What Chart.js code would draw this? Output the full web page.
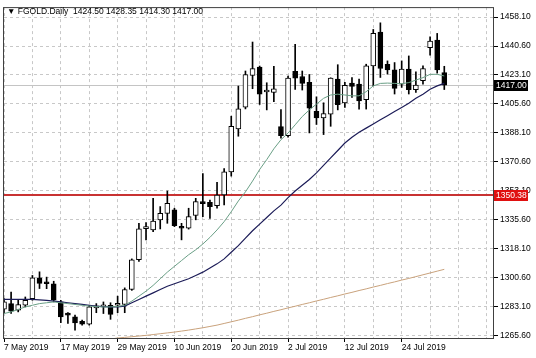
<!DOCTYPE html>
<html>
<head>
<meta charset="utf-8">
<script src="https://cdn.jsdelivr.net/npm/chart.js@4.4.0/dist/chart.umd.min.js"></script>
<style>
  html, body { margin: 0; background: #fff; }
  #wrap { width: 536px; height: 358px; }
</style>
</head>
<body>
<div id="wrap"><canvas id="chart"></canvas></div>
<script>
const symbol = "FGOLD.Daily";

const dates = [
  "7 May 2019","8 May 2019","9 May 2019","10 May 2019","13 May 2019","14 May 2019","15 May 2019","16 May 2019",
  "17 May 2019","20 May 2019","21 May 2019","22 May 2019","23 May 2019","24 May 2019","27 May 2019","28 May 2019",
  "29 May 2019","30 May 2019","31 May 2019","3 Jun 2019","4 Jun 2019","5 Jun 2019","6 Jun 2019","7 Jun 2019",
  "10 Jun 2019","11 Jun 2019","12 Jun 2019","13 Jun 2019","14 Jun 2019","17 Jun 2019","18 Jun 2019","19 Jun 2019",
  "20 Jun 2019","21 Jun 2019","24 Jun 2019","25 Jun 2019","26 Jun 2019","27 Jun 2019","28 Jun 2019","1 Jul 2019",
  "2 Jul 2019","3 Jul 2019","4 Jul 2019","5 Jul 2019","8 Jul 2019","9 Jul 2019","10 Jul 2019","11 Jul 2019",
  "12 Jul 2019","15 Jul 2019","16 Jul 2019","17 Jul 2019","18 Jul 2019","19 Jul 2019","22 Jul 2019","23 Jul 2019",
  "24 Jul 2019","25 Jul 2019","26 Jul 2019","29 Jul 2019","30 Jul 2019","31 Jul 2019","1 Aug 2019"
];

const open = [
  1281.6,1285,1281,1284,1288,1300.6,1297.4,1297,1286,1278.5,
  1277,1274.3,1272.5,1282.4,1283,1284,1284,1284.5,1293.5,1311.5,
  1330.3,1329.5,1335.5,1339.5,1341.6,1331.5,1330.5,1338.2,1346.6,1346.2,
  1344.2,1350.6,1364.6,1390.5,1403.6,1422.8,1427.9,1412.8,1412.5,1392,
  1386.4,1425.3,1422.2,1418.7,1401.1,1397.1,1399.4,1420.6,1406.2,1418.2,
  1417.6,1408.2,1428.6,1449,1429.6,1426.2,1417.6,1426.6,1414.2,1419.6,
  1439.6,1444.2,1424.5
];
const high = [
  1288,1292,1287.5,1289,1302,1304.2,1301,1298.5,1287,1279.5,
  1278,1275,1284,1285,1286,1285.5,1289.5,1294.5,1312,1333.5,
  1334,1348.6,1343.6,1353,1342.6,1333.5,1342.6,1348.6,1363.6,1347.6,
  1358.2,1366.6,1398.2,1416.4,1425.5,1443,1428.5,1418.4,1428.3,1402.2,
  1422.5,1441.6,1425.5,1423.4,1409.9,1406.3,1421.4,1429.3,1418.6,1421.6,
  1420.6,1429.6,1450.6,1454.6,1431.6,1430.6,1431.6,1434.6,1425,1428.6,
  1446.2,1448.2,1428.35
];
const low = [
  1279.5,1279,1280,1283,1287,1294.1,1294,1286,1273.5,1273,
  1269,1272,1272,1279.5,1279,1275.5,1279.5,1279.5,1293,1310.5,
  1323.5,1328.5,1330.1,1333.5,1331.5,1323.5,1330,1335.6,1337.5,1336.5,
  1342.6,1344.6,1362,1386.1,1402.6,1414.8,1405.3,1402,1407,1385,
  1385.5,1414.4,1414,1388.1,1393.2,1387.1,1392.1,1402,1403.5,1409.6,
  1402.5,1402.5,1416.6,1421.6,1423.6,1411.6,1415.6,1411.6,1412.6,1417.6,
  1435,1424.2,1414.3
];
const close = [
  1286,1280.5,1284.4,1287,1300.6,1297.2,1297,1287,1277,1278,
  1273.3,1272.5,1283,1283.6,1283.2,1278.5,1284.2,1293.5,1311.5,1330.1,
  1331,1334.9,1339.5,1345.6,1332.1,1330.5,1337.5,1346.6,1345.4,1343.6,
  1350.6,1364.6,1392.1,1402.6,1423.4,1426.9,1411.5,1413,1414.8,1386.4,
  1421.2,1421.2,1418,1403.1,1397.1,1399.8,1421.2,1405.2,1416.9,1416.2,
  1407.5,1428.6,1448.2,1427,1426.2,1415,1426.6,1414.2,1417,1427,
  1443.6,1426.2,1417
];

// moving averages
const maFast = [
  1279,1280,1281.5,1283,1284,1285,1285.5,1286,1285.5,1285,
  1284.5,1284,1283.5,1283.2,1283,1283,1283.3,1284,1286.5,1289.5,
  1292.5,1296,1300,1304,1307.5,1311,1314.5,1317.5,1321,1325,
  1329.5,1334.5,1340.5,1347,1352.5,1359,1366,1372,1378.5,1384,
  1388,1393,1398,1402,1405.5,1409,1411,1411.5,1411,1410.5,
  1410.5,1413,1416.5,1418,1418.2,1418,1417.8,1418.5,1420,1421.5,
  1423.5,1423.5,1422.5
];
const maSlow = [
  1287.5,1287.5,1287.5,1287.5,1287.5,1287.3,1287,1286.5,1286,1285.5,
  1285,1284.5,1284,1283.5,1283.2,1283,1283,1283.5,1285.5,1287.5,
  1289.5,1291.5,1293.5,1295.5,1297,1298.5,1300,1302,1304,1306.5,
  1309,1312,1316,1320,1324.5,1329,1333,1337,1341,1344.5,
  1349,1353,1356.5,1360,1364,1368.5,1373,1377.5,1382,1385.5,
  1388.5,1391,1393.5,1396,1398.5,1401,1403.5,1406,1409,1411.5,
  1414.5,1416.5,1418
];
const maLong = [
  null,null,null,null,null,null,null,null,null,null,
  null,null,null,null,1263.0,1263.6,1264.2,1264.6,1265.0,1265.4,
  1265.8,1266.3,1266.8,1267.3,1267.8,1268.4,1269.0,1269.7,1270.4,1271.2,
  1272.0,1273.0,1274.0,1275.0,1276.1,1277.1,1278.2,1279.2,1280.3,1281.3,
  1282.4,1283.4,1284.5,1285.5,1286.6,1287.6,1288.7,1289.7,1290.8,1291.8,
  1292.9,1293.9,1295.0,1296.0,1297.1,1298.1,1299.2,1300.2,1301.3,1302.4,
  1303.5,1304.6,1305.7
];

const yTicks = [1265.60,1283.10,1300.60,1318.10,1335.60,1353.10,1370.60,1388.10,1405.60,1423.10,1440.60,1458.10];
const bidLevel = 1417.00;
const alertLevel = 1350.38;

const labels = dates.concat(["", "", "", "", "", "", ""]);
const font = { family: "'Liberation Sans', Arial, sans-serif", size: 8.5 };
const last = dates.length - 1;

const overlay = {
  id: "overlay",
  beforeDatasetsDraw(chart) {
    const { ctx, chartArea: a, scales: { y } } = chart;
    ctx.save();
    ctx.setLineDash([]);
    ctx.lineWidth = 1;
    ctx.strokeStyle = "#c4c4c4";
    let py = Math.round(y.getPixelForValue(bidLevel)) + 0.5;
    ctx.beginPath(); ctx.moveTo(a.left, py); ctx.lineTo(a.right, py); ctx.stroke();
    // alert level, a bit heavier so it keeps its red
    ctx.lineWidth = 2;
    ctx.strokeStyle = "#c83232";
    py = Math.round(y.getPixelForValue(alertLevel));
    ctx.beginPath(); ctx.moveTo(a.left, py); ctx.lineTo(a.right, py); ctx.stroke();
    ctx.restore();
  },
  afterDraw(chart) {
    const { ctx, chartArea: a, scales: { y } } = chart;
    ctx.save();
    // frame
    ctx.strokeStyle = "#404040";
    ctx.lineWidth = 1;
    ctx.strokeRect(a.left - 0.5, a.top + 0.5, a.right - a.left, a.bottom - a.top);
    // header
    ctx.font = "8.5px 'Liberation Sans', Arial, sans-serif";
    ctx.fillStyle = "#000";
    ctx.textBaseline = "middle";
    ctx.textAlign = "left";
    ctx.fillText("\u25BC " + symbol + "  " + [open[last], high[last], low[last], close[last]].map(v => v.toFixed(2)).join(" "), 7, 12);
    // price labels
    const tag = (val, bg) => {
      const py = Math.round(y.getPixelForValue(val));
      ctx.fillStyle = bg;
      ctx.fillRect(a.right, py - 5, 34, 11);
      ctx.fillStyle = "#fff";
      ctx.fillText(val.toFixed(2), a.right + 2, py + 0.5);
    };
    tag(bidLevel, "#000");
    tag(alertLevel, "#e01010");
    ctx.restore();
  }
};

new Chart(document.getElementById("chart"), {
  type: "bar",
  data: {
    labels: labels,
    datasets: [
      { type: "line", data: maFast, borderColor: "#6a9f86", borderWidth: 1, pointRadius: 0, order: 0 },
      { type: "line", data: maSlow, borderColor: "#1c1c58", borderWidth: 1.2, pointRadius: 0, order: 0 },
      { type: "line", data: maLong, borderColor: "#c9a27c", borderWidth: 1, pointRadius: 0, order: 0 },
      {
        data: dates.map((d, i) => [Math.min(open[i], close[i]), Math.max(open[i], close[i])]),
        backgroundColor: c => close[c.dataIndex] >= open[c.dataIndex] ? "#fff" : "#000",
        borderColor: "#000", borderWidth: 1, borderSkipped: false,
        barThickness: 5, minBarLength: 2, grouped: false, order: 1
      },
      {
        data: dates.map((d, i) => [low[i], high[i]]),
        backgroundColor: "#000", barThickness: 1, grouped: false, order: 2
      }
    ]
  },
  options: {
    responsive: true,
    maintainAspectRatio: false,
    animation: false,
    layout: { padding: { left: 4, top: 4, right: 0, bottom: 0 } },
    plugins: { legend: { display: false }, tooltip: { enabled: false } },
    scales: {
      x: {
        type: "category",
        offset: false,
        grid: {
          offset: false,
          color: c => c.index % 4 === 0 ? "#c8c8c8" : "rgba(0,0,0,0)",
          tickColor: c => (c.index % 8 === 0 && c.index <= last) ? "#000" : "rgba(0,0,0,0)",
          tickLength: 4
        },
        border: { display: false, dash: [3, 3] },
        ticks: {
          autoSkip: false, maxRotation: 0, minRotation: 0, align: "start", padding: 1,
          font: font, color: "#000",
          callback: (v, i) => i % 8 === 0 ? labels[i] : ""
        },
        afterFit: s => { s.height = 20; }
      },
      y: {
        position: "right",
        min: 1264.22,
        max: 1464.1,
        afterBuildTicks: s => { s.ticks = yTicks.map(v => ({ value: v })); },
        afterFit: s => { s.width = 42; },
        grid: { color: "#c8c8c8", tickColor: "#000", tickLength: 4 },
        border: { display: false, dash: [3, 3] },
        ticks: { font: font, color: "#000", padding: 2, callback: v => Number(v).toFixed(2) }
      }
    }
  },
  plugins: [overlay]
});
</script>
</body>
</html>
